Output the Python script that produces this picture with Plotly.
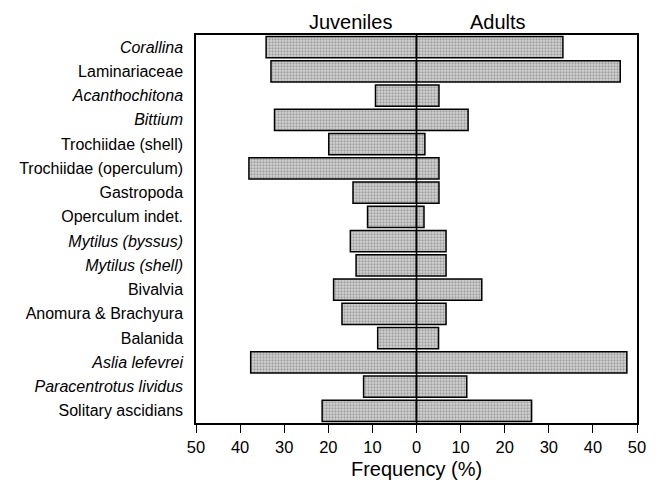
import plotly.graph_objects as go

categories = [
    "<i>Corallina</i>", "Laminariaceae", "<i>Acanthochitona</i>", "<i>Bittium</i>",
    "Trochiidae (shell)", "Trochiidae (operculum)", "Gastropoda", "Operculum indet.",
    "<i>Mytilus (byssus)</i>", "<i>Mytilus (shell)</i>", "Bivalvia", "Anomura & Brachyura",
    "Balanida", "<i>Aslia lefevrei</i>", "<i>Paracentrotus lividus</i>", "Solitary ascidians",
]
juveniles = [34.1, 33.0, 9.3, 32.2, 19.9, 38.0, 14.4, 11.1, 15.0, 13.7, 18.8, 16.9, 8.8, 37.6, 12.0, 21.4]
adults = [33.2, 46.2, 5.1, 11.7, 1.9, 5.1, 5.1, 1.7, 6.7, 6.7, 14.8, 6.7, 5.0, 47.7, 11.4, 26.1]
tick_vals = [-50, -40, -30, -20, -10, 0, 10, 20, 30, 40, 50]
tick_text = ["50", "40", "30", "20", "10", "0", "10", "20", "30", "40", "50"]

FONT = "Liberation Sans, Arial, sans-serif"
pattern = dict(shape=".", fgcolor="#6a6a6a", bgcolor="#d4d4d4", size=3, solidity=0.45)

fig = go.Figure()
fig.add_trace(go.Bar(
    y=categories, x=[-v for v in juveniles], orientation="h", width=0.88,
    marker=dict(color="#d4d4d4", line=dict(color="black", width=1.5), pattern=pattern),
    showlegend=False, hoverinfo="skip",
))
fig.add_trace(go.Bar(
    y=categories, x=adults, orientation="h", width=0.88,
    marker=dict(color="#d4d4d4", line=dict(color="black", width=1.5), pattern=pattern),
    showlegend=False, hoverinfo="skip",
))

fig.add_shape(type="line", xref="x", yref="paper", x0=0, x1=0, y0=0, y1=1,
              line=dict(color="black", width=1.5), layer="above")

fig.add_annotation(x=-15, y=1, xref="x", yref="paper", yanchor="bottom", yshift=0,
                   text="Juveniles", showarrow=False, font=dict(size=20, color="black", family=FONT))
fig.add_annotation(x=18.5, y=1, xref="x", yref="paper", yanchor="bottom", yshift=0,
                   text="Adults", showarrow=False, font=dict(size=20, color="black", family=FONT))

fig.update_layout(
    width=660, height=480,
    margin=dict(l=196, r=23, t=35, b=57),
    paper_bgcolor="white", plot_bgcolor="white",
    barmode="relative", bargap=0.12,
    font=dict(family=FONT, color="black", size=16),
    xaxis=dict(
        range=[-50, 50], tickvals=tick_vals, ticktext=tick_text,
        showgrid=False, zeroline=False, automargin=False,
        showline=True, linecolor="black", linewidth=1.5, mirror=True,
        ticks="outside", ticklen=8, tickwidth=1.2, tickcolor="black",
        tickfont=dict(size=16.5),
        title=dict(text="Frequency (%)", font=dict(size=20), standoff=9),
    ),
    yaxis=dict(
        autorange="reversed", showgrid=False, zeroline=False, automargin=False,
        showline=True, linecolor="black", linewidth=1.5, mirror=True,
        ticks="outside", ticklen=8, tickcolor="rgba(0,0,0,0)",
        tickfont=dict(size=16),
    ),
)

fig.write_html("out.html")
